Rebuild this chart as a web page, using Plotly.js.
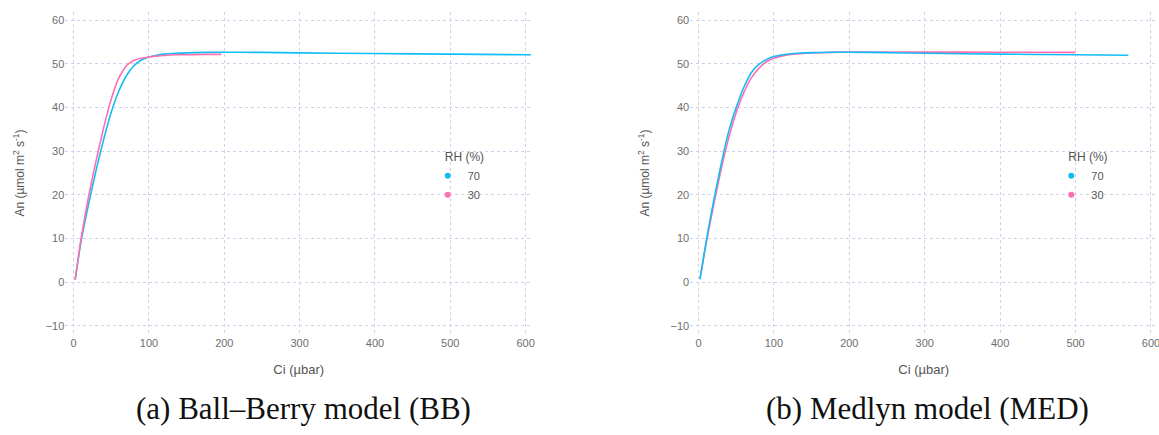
<!DOCTYPE html>
<html>
<head>
<meta charset="utf-8">
<script src="https://cdn.plot.ly/plotly-3.0.1.min.js"></script>
<style>html,body{margin:0;padding:0;background:#fff;}#chart{width:1159px;height:435px;}</style>
</head>
<body>
<div id="chart"></div>
<script>
// Ball–Berry model (BB)
const bbCi70 = [2, 10, 20, 30, 40, 50, 60, 70, 80, 90, 100, 110, 120, 135, 150, 175, 200, 250, 300, 400, 500, 607];
const bbAn70 = [0.5, 9.5, 18.0, 25.8, 32.8, 39.0, 43.8, 47.3, 49.6, 50.9, 51.6, 52.0, 52.25, 52.45, 52.55, 52.65, 52.7, 52.65, 52.55, 52.4, 52.25, 52.1];
const bbCi30 = [2, 10, 20, 30, 40, 50, 60, 70, 80, 90, 100, 110, 120, 140, 160, 180, 196];
const bbAn30 = [0.6, 10.2, 19.8, 28.0, 35.5, 42.0, 46.8, 49.6, 50.8, 51.3, 51.6, 51.8, 51.95, 52.1, 52.15, 52.2, 52.2];
// Medlyn model (MED)
const medCi70 = [2, 10, 20, 30, 40, 50, 60, 70, 80, 90, 100, 110, 120, 135, 150, 175, 200, 250, 300, 400, 500, 570];
const medAn70 = [0.7, 9.2, 18.5, 27.0, 34.5, 40.0, 44.6, 48.0, 49.9, 51.0, 51.7, 52.05, 52.3, 52.5, 52.6, 52.68, 52.7, 52.6, 52.45, 52.25, 52.1, 52.0];
const medCi30 = [2, 10, 20, 30, 40, 50, 60, 70, 80, 90, 100, 110, 120, 135, 150, 175, 200, 250, 300, 400, 500];
const medAn30 = [0.7, 8.7, 17.6, 25.8, 33.0, 38.8, 43.4, 46.8, 49.0, 50.5, 51.3, 51.8, 52.1, 52.35, 52.5, 52.65, 52.75, 52.75, 52.72, 52.7, 52.65];

const rhLabels = ['70', '30'];
const xTicks = [0, 100, 200, 300, 400, 500, 600];
const yTicks = [-10, 0, 10, 20, 30, 40, 50, 60];
const captions = ['(a) Ball–Berry model (BB)', '(b) Medlyn model (MED)'];

const BLUE = '#12BDF5';
const PINK = '#FF6EB0';
const FONT = 'Liberation Sans, Arial, sans-serif';

function line(x, y, color, xa, ya) {
  return {x: x, y: y, xaxis: xa, yaxis: ya, type: 'scatter', mode: 'lines',
    line: {color: color, width: 1.6, shape: 'spline', smoothing: 0.5},
    showlegend: false, hoverinfo: 'x+y'};
}
function legendDot(name, color, leg) {
  return {x: [null], y: [null], type: 'scatter', mode: 'markers', name: name,
    marker: {color: color, size: 6}, legend: leg, showlegend: true};
}

const traces = [
  line(bbCi70, bbAn70, BLUE, 'x', 'y'),
  line(bbCi30, bbAn30, PINK, 'x', 'y'),
  line(medCi30, medAn30, PINK, 'x2', 'y2'),
  line(medCi70, medAn70, BLUE, 'x2', 'y2'),
  legendDot(rhLabels[0], BLUE, 'legend'),
  legendDot(rhLabels[1], PINK, 'legend'),
  legendDot(rhLabels[0], BLUE, 'legend2'),
  legendDot(rhLabels[1], PINK, 'legend2')
];

function xaxis(domain, anchor) {
  return {domain: domain, anchor: anchor, range: [-11, 608.5], tickvals: xTicks,
    showgrid: true, gridcolor: '#d2d0e8', griddash: 'dot', gridwidth: 1,
    zeroline: false, showline: false, ticks: '', ticklabeloverflow: 'allow',
    tickfont: {family: FONT, size: 11, color: '#6e6e6e'},
    title: {text: 'Ci (µbar)', font: {family: FONT, size: 13, color: '#555'}, standoff: 17}};
}
function yaxis(domain, anchor) {
  return {domain: domain, anchor: anchor, range: [-12, 62], tickvals: yTicks,
    showgrid: true, gridcolor: '#d2d0e8', griddash: 'dot', gridwidth: 1,
    zeroline: false, showline: false, ticks: '',
    tickfont: {family: FONT, size: 11, color: '#6e6e6e'},
    title: {text: 'An (µmol m<sup>2</sup> s<sup>-1</sup>)', font: {family: FONT, size: 12, color: '#555'}, standoff: 18}};
}
function legend(x) {
  return {x: x, y: 0.665, xanchor: 'left', yanchor: 'top', bgcolor: 'rgba(0,0,0,0)',
    font: {family: FONT, size: 11, color: '#555'}, indentation: -15, itemwidth: 30,
    title: {text: 'RH (%)', font: {family: FONT, size: 12, color: '#555'}}};
}

const layout = {
  width: 1159, height: 435,
  margin: {l: 0, r: 0, t: 0, b: 0},
  paper_bgcolor: '#fff', plot_bgcolor: '#fff',
  xaxis: xaxis([0.0564, 0.459], 'y'),
  yaxis: yaxis([0.231, 0.9733], 'x'),
  xaxis2: xaxis([0.5955, 0.9986], 'y2'),
  yaxis2: yaxis([0.231, 0.9733], 'x2'),
  legend: legend(0.382),
  legend2: legend(0.920),
  annotations: captions.map((t, i) => ({
    text: t, xref: 'paper', yref: 'paper', x: i === 0 ? 0.2615 : 0.8005, y: 0.0598,
    xanchor: 'center', yanchor: 'middle', showarrow: false,
    font: {family: 'Liberation Serif, Times New Roman, serif', size: 31, color: '#111'}
  }))
};

Plotly.newPlot('chart', traces, layout, {displayModeBar: false, staticPlot: true});
</script>
</body>
</html>
